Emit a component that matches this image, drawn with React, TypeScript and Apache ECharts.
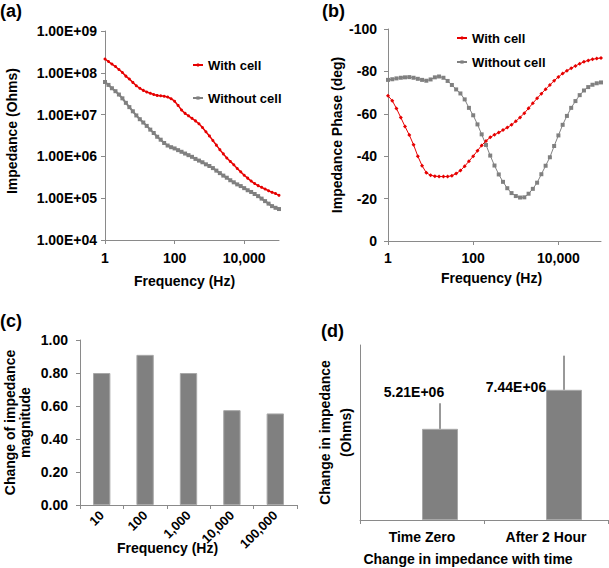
import React, { useEffect, useRef } from 'react';
import * as echarts from 'echarts';

// ---- Data ----
const freqHz = [
  1, 1.26, 1.58, 2, 2.51, 3.16, 3.98, 5.01, 6.31, 7.94,
  10, 12.6, 15.8, 20, 25.1, 31.6, 39.8, 50.1, 63.1, 79.4,
  100, 126, 158, 200, 251, 316, 398, 501, 631, 794,
  1000, 1259, 1585, 1995, 2512, 3162, 3981, 5012, 6310, 7943,
  10000, 12589, 15849, 19953, 25119, 31623, 39811, 50119, 63096, 79433, 100000,
];

const impedanceWithCell = [
  2.14e8, 1.86e8, 1.62e8, 1.41e8, 1.2e8, 1.02e8, 8.32e7, 7.08e7, 5.89e7, 4.9e7,
  4.27e7, 3.8e7, 3.47e7, 3.24e7, 3.02e7, 2.88e7, 2.82e7, 2.75e7, 2.63e7, 2.4e7,
  2.09e7, 1.66e7, 1.29e7, 1.07e7, 9.33e6, 8.13e6, 7.08e6, 6.03e6, 4.9e6, 3.89e6,
  3.09e6, 2.4e6, 1.86e6, 1.45e6, 1.15e6, 9.12e5, 7.59e5, 6.31e5, 5.13e5, 4.27e5,
  3.55e5, 3.02e5, 2.57e5, 2.24e5, 2.0e5, 1.82e5, 1.66e5, 1.51e5, 1.38e5, 1.29e5, 1.17e5,
];

const impedanceWithoutCell = [
  6.03e7, 5.13e7, 4.27e7, 3.63e7, 3.02e7, 2.45e7, 1.91e7, 1.51e7, 1.2e7, 9.55e6,
  7.76e6, 6.46e6, 5.37e6, 4.37e6, 3.63e6, 2.95e6, 2.51e6, 2.09e6, 1.82e6, 1.66e6,
  1.55e6, 1.41e6, 1.29e6, 1.17e6, 1.07e6, 9.77e5, 8.71e5, 7.94e5, 7.24e5, 6.46e5,
  5.89e5, 5.25e5, 4.57e5, 3.98e5, 3.47e5, 3.09e5, 2.69e5, 2.4e5, 2.14e5, 1.95e5,
  1.74e5, 1.55e5, 1.41e5, 1.26e5, 1.12e5, 9.77e4, 8.51e4, 7.41e4, 6.46e4, 5.89e4, 5.5e4,
];

const phaseWithCell = [
  -68.5, -66.2, -62.5, -58.2, -54.0, -50.0, -45.4, -40.0, -35.5, -32.2,
  -31.0, -30.6, -30.4, -30.4, -30.4, -30.8, -31.8, -33.2, -35.3, -37.6,
  -40.0, -42.6, -45.1, -47.2, -48.9, -50.1, -51.2, -52.3, -53.5, -54.8,
  -56.5, -58.3, -60.3, -62.6, -65.0, -67.3, -69.5, -71.6, -73.6, -75.6,
  -77.4, -79.0, -80.3, -81.5, -82.6, -83.6, -84.5, -85.2, -85.7, -86.1, -86.3,
];

const phaseWithoutCell = [
  -76.0, -76.3, -76.7, -77.0, -77.2, -77.3, -77.0, -76.5, -76.0, -75.6,
  -76.2, -77.2, -77.6, -77.0, -75.5, -73.6, -71.5, -69.6, -66.8, -62.8,
  -59.3, -55.0, -50.3, -45.3, -40.3, -35.6, -31.4, -27.9, -24.9, -22.6,
  -21.2, -20.5, -20.6, -22.3, -24.6, -27.5, -31.5, -35.5, -39.5, -44.8,
  -49.8, -54.8, -59.0, -62.8, -66.0, -68.8, -71.0, -72.6, -73.7, -74.4, -74.8,
];

const magnitudeFreqLabels = ['10', '100', '1,000', '10,000', '100,000'];
const magnitudeChange = [0.8, 0.91, 0.8, 0.575, 0.555];

const timeLabels = ['Time Zero', 'After 2 Hour'];
const impedanceChange = [5.21e6, 7.44e6];
const impedanceChangeError = [1.46e6, 1.95e6];

// ---- Styling ----
const FONT = '"Liberation Sans", Arial, sans-serif';
const AXIS_COLOR = '#8a8a8a';
const RED = '#e60000';
const GRAY = '#808080';

const bold = (size: number) => ({
  fontFamily: FONT,
  fontWeight: 'bold' as const,
  fontSize: size,
  color: '#000',
});

const sci = (v: number) => {
  const e = Math.floor(Math.log10(v) + 1e-9);
  const m = v / Math.pow(10, e);
  return m.toFixed(2) + 'E+' + String(e).padStart(2, '0');
};

const axisLine = { show: true, lineStyle: { color: AXIS_COLOR, width: 1 } };
const axisTick = { show: true, length: 4, lineStyle: { color: AXIS_COLOR } };

export default function App() {
  const ref = useRef<HTMLDivElement>(null);

  useEffect(() => {
    if (!ref.current) return;
    const chart = echarts.init(ref.current, undefined, { renderer: 'svg' });

    const freqAxis = (gridIndex: number, nameGap: number, padRight: number, margin: number) => ({
      gridIndex,
      type: 'log' as const,
      logBase: 100,
      min: 1,
      max: 100000,
      axisLine,
      axisTick,
      minorTick: { show: false },
      splitLine: { show: false },
      axisLabel: {
        ...bold(14),
        margin,
        formatter: (v: number) => Math.round(v).toLocaleString('en-US'),
      },
      name: 'Frequency (Hz)',
      nameLocation: 'middle' as const,
      nameGap,
      nameMoveOverlap: false,
      nameTextStyle: { ...bold(14), padding: [0, padRight, 0, 0] },
    });

    const option: any = {
      animation: false,
      backgroundColor: '#fff',
      title: [
        { text: '(a)', left: 0, top: 2, padding: 0, textStyle: bold(18) },
        { text: '(b)', left: 322, top: 2, padding: 0, textStyle: bold(18) },
        { text: '(c)', left: 0, top: 312, padding: 0, textStyle: bold(18) },
        { text: '(d)', left: 321, top: 322, padding: 0, textStyle: bold(18) },
      ],
      legend: [
        {
          data: ['With cell', 'Without cell'],
          orient: 'vertical',
          left: 192,
          top: 58,
          itemGap: 19,
          itemWidth: 10,
          itemHeight: 4,
          padding: 0,
          selectedMode: false,
          textStyle: { ...bold(13), lineHeight: 14 },
        },
        {
          data: ['With cell', 'Without cell'],
          orient: 'vertical',
          left: 456,
          top: 31,
          itemGap: 10,
          itemWidth: 10,
          itemHeight: 4,
          padding: 0,
          selectedMode: false,
          textStyle: { ...bold(13), lineHeight: 14 },
        },
      ],
      grid: [
        { left: 105, top: 31, width: 174, height: 209 },
        { left: 388, top: 29, width: 213, height: 212 },
        { left: 80, top: 340, width: 217, height: 165 },
        { left: 360, top: 345, width: 248, height: 175 },
      ],
      xAxis: [
        freqAxis(0, 34, 15, 11),
        freqAxis(1, 30, 6, 10),
        {
          gridIndex: 2,
          type: 'category',
          data: magnitudeFreqLabels,
          axisLine,
          axisTick,
          axisLabel: { ...bold(13), rotate: 45, margin: 8 },
          name: 'Frequency (Hz)',
          nameLocation: 'middle',
          nameGap: 36,
          nameMoveOverlap: false,
          nameTextStyle: { ...bold(14), padding: [0, 42, 0, 0] },
        },
        {
          gridIndex: 3,
          type: 'category',
          data: timeLabels,
          axisLine,
          axisTick,
          axisLabel: { ...bold(14), margin: 10 },
          name: 'Change in impedance with time',
          nameLocation: 'middle',
          nameGap: 32,
          nameMoveOverlap: false,
          nameTextStyle: { ...bold(14), padding: [0, 32, 0, 0] },
        },
      ],
      yAxis: [
        {
          gridIndex: 0,
          type: 'log',
          logBase: 10,
          min: 1e4,
          max: 1e9,
          axisLine,
          axisTick,
          minorTick: { show: false },
          splitLine: { show: false },
          axisLabel: { ...bold(14), margin: 8, formatter: (v: number) => sci(v) },
          name: 'Impedance (Ohms)',
          nameLocation: 'middle',
          nameGap: 86,
          nameMoveOverlap: false,
          nameTextStyle: { ...bold(14), padding: [0, 0, 0, 9] },
        },
        {
          gridIndex: 1,
          type: 'value',
          min: -100,
          max: 0,
          interval: 20,
          inverse: true,
          axisLine,
          axisTick,
          splitLine: { show: false },
          axisLabel: { ...bold(14), margin: 11 },
          name: 'Impedance Phase (deg)',
          nameLocation: 'middle',
          nameGap: 44,
          nameMoveOverlap: false,
          nameTextStyle: bold(14),
        },
        {
          gridIndex: 2,
          type: 'value',
          min: 0,
          max: 1,
          interval: 0.2,
          axisLine,
          axisTick,
          splitLine: { show: false },
          axisLabel: { ...bold(14), margin: 12, formatter: (v: number) => v.toFixed(2) },
          name: 'Change of impedance\nmagnitude',
          nameLocation: 'middle',
          nameGap: 47,
          nameMoveOverlap: false,
          nameTextStyle: { ...bold(14), lineHeight: 15.5 },
        },
        {
          gridIndex: 3,
          type: 'value',
          min: 0,
          max: 1e7,
          axisLine,
          axisTick: { show: false },
          axisLabel: { show: false },
          splitLine: { show: false },
          name: 'Change in impedance\n(Ohms)',
          nameLocation: 'middle',
          nameGap: 4,
          nameMoveOverlap: false,
          nameTextStyle: { ...bold(14), lineHeight: 21 },
        },
      ],
      series: [
        {
          name: 'With cell',
          type: 'line',
          xAxisIndex: 0,
          yAxisIndex: 0,
          data: freqHz.map((f, i) => [f, impedanceWithCell[i]]),
          color: RED,
          symbol: 'circle',
          symbolSize: 3,
          showAllSymbol: true,
          lineStyle: { color: RED, width: 1.5 },
          itemStyle: { color: RED },
          z: 3,
        },
        {
          name: 'Without cell',
          type: 'line',
          xAxisIndex: 0,
          yAxisIndex: 0,
          data: freqHz.map((f, i) => [f, impedanceWithoutCell[i]]),
          color: GRAY,
          symbol: 'rect',
          symbolSize: 4,
          showAllSymbol: true,
          lineStyle: { color: GRAY, width: 2 },
          itemStyle: { color: GRAY },
          z: 2,
        },
        {
          name: 'With cell',
          type: 'line',
          xAxisIndex: 1,
          yAxisIndex: 1,
          data: freqHz.map((f, i) => [f, phaseWithCell[i]]),
          color: RED,
          symbol: 'diamond',
          symbolSize: 4,
          showAllSymbol: true,
          lineStyle: { color: RED, width: 1 },
          itemStyle: { color: RED },
          z: 3,
        },
        {
          name: 'Without cell',
          type: 'line',
          xAxisIndex: 1,
          yAxisIndex: 1,
          data: freqHz.map((f, i) => [f, phaseWithoutCell[i]]),
          color: GRAY,
          symbol: 'rect',
          symbolSize: 4,
          showAllSymbol: true,
          lineStyle: { color: GRAY, width: 1 },
          itemStyle: { color: GRAY },
          z: 2,
        },
        {
          name: 'Magnitude change',
          type: 'bar',
          xAxisIndex: 2,
          yAxisIndex: 2,
          data: magnitudeChange,
          barWidth: '40%',
          itemStyle: { color: '#808080', borderColor: '#a8a8a8', borderWidth: 1 },
        },
        {
          name: 'blank',
          type: 'bar',
          xAxisIndex: 3,
          yAxisIndex: 3,
          data: impedanceChange.map(() => null),
          barWidth: 36,
          barGap: '0%',
        },
        {
          name: 'Impedance change',
          type: 'bar',
          xAxisIndex: 3,
          yAxisIndex: 3,
          barWidth: 36,
          barGap: '0%',
          data: impedanceChange.map((v, i) => ({
            value: v,
            label: {
              show: true,
              position: i === 0 ? [-8, -37] : [-30, -3],
              align: 'center',
              verticalAlign: 'middle',
              formatter: (p: any) => sci(p.value),
              ...bold(14),
            },
          })),
          itemStyle: { color: '#808080', borderColor: '#a8a8a8', borderWidth: 1 },
        },
        {
          name: 'Error',
          type: 'custom',
          xAxisIndex: 3,
          yAxisIndex: 3,
          z: 5,
          data: impedanceChange.map((v, i) => [i, v, impedanceChangeError[i]]),
          encode: { x: 0, y: 1 },
          renderItem: (params: any, api: any) => {
            const idx = api.value(0);
            const v = api.value(1);
            const e = api.value(2);
            const p0 = api.coord([idx, v]);
            const p1 = api.coord([idx, v + e]);
            return {
              type: 'line',
              shape: { x1: p0[0] + 18, y1: p0[1], x2: p1[0] + 18, y2: p1[1] },
              style: { stroke: '#333', lineWidth: 1 },
            };
          },
        },
      ],
    };

    chart.setOption(option);
    return () => chart.dispose();
  }, []);

  return (
    <div
      ref={ref}
      style={{ position: 'fixed', left: 0, top: 0, width: 609, height: 568, background: '#fff' }}
    />
  );
}
